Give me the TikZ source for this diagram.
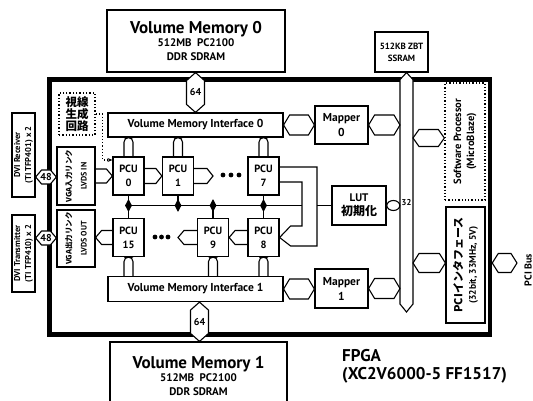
\documentclass[tikz,border=0pt]{standalone}
\usepackage{fontspec}
\setmainfont{PT Sans}
\newfontfamily\jp{Noto Sans CJK JP}
\usetikzlibrary{calc,shapes.geometric,arrows.meta}

\tikzset{
  blk/.style={draw, line width=1.2pt, fill=white, inner sep=0pt, align=center, font=\bfseries},
  pcu/.style={blk, minimum width=31pt, minimum height=38pt, font=\fontsize{10.5}{14}\selectfont\bfseries},
  link/.style={draw, line width=1.1pt, fill=white},
  wire/.style={line width=1.1pt},
  dotbox/.style={draw, dotted, line width=1.3pt, inner sep=0pt, align=center},
  vtxt/.style={rotate=90, align=center, inner sep=0pt},
  num/.style={inner sep=0pt, font=\fontsize{10}{11}\selectfont\bfseries},
  jn/.style={diamond, fill=black, inner sep=0pt, minimum width=7pt, minimum height=13pt},
}

\newcommand{\hexH}[5]{%
  \coordinate (#1a) at (#2); \coordinate (#1b) at (#3);
  \path[link] (#1a) -- ([shift={(6pt,#4)}]#1a) -- ([shift={(-6pt,#4)}]#1b) -- (#1b)
    -- ([shift={(-6pt,-#4)}]#1b) -- ([shift={(6pt,-#4)}]#1a) -- cycle;
  \node[num] (#1) at ($(#1a)!.5!(#1b)$) {#5};}
\newcommand{\hexV}[5]{%
  \coordinate (#1a) at (#2); \coordinate (#1b) at (#3);
  \path[link] (#1a) -- ([shift={(#4,-8pt)}]#1a) -- ([shift={(#4,8pt)}]#1b) -- (#1b)
    -- ([shift={(-#4,8pt)}]#1b) -- ([shift={(-#4,-8pt)}]#1a) -- cycle;
  \node[num] (#1) at ($(#1a)!.5!(#1b)$) {#5};}
\newcommand{\chev}[4]{%
  \coordinate (#1a) at (#2); \coordinate (#1t) at (#3);
  \coordinate (#1k) at ($(#1t)!6pt!(#1a)$);
  \draw[wire] ([yshift=#4]#1a) -- ([yshift=#4]#1k) -- (#1t) -- ([yshift=-#4]#1k) -- ([yshift=-#4]#1a);}

\begin{document}
\begin{tikzpicture}[x=1pt,y=-1pt]
\fill[white] (0,0) rectangle (533,401);
\useasboundingbox (0,0) rectangle (533,401);

\node[draw, line width=4.5pt, minimum width=440.5pt, minimum height=255pt, inner sep=0pt] (fpga) at (269.75,207) {};

% memories and SSRAM bus
\node[blk, minimum width=178pt, minimum height=62pt, font=\fontsize{11}{13.5}\selectfont\bfseries] (vm0) at (196,41)
  {{\fontsize{17}{17}\selectfont Volume Memory 0}\\[0pt] 512MB\enspace PC2100\\ DDR SDRAM};
\node[blk, minimum width=177pt, minimum height=68pt, font=\fontsize{11}{13.5}\selectfont\bfseries] (vm1) at (198.5,376)
  {{\fontsize{17}{17}\selectfont Volume Memory 1}\\[0pt] 512MB\enspace PC2100\\ DDR SDRAM};
\node[blk, minimum width=53pt, minimum height=40pt, font=\fontsize{9}{12}\selectfont\bfseries] (ssram) at (401.5,52) {512KB ZBT\\SSRAM};

\coordinate (bustop) at ([xshift=5pt]ssram.south);
\coordinate (busbot) at (bustop |- 0,312);
\coordinate (busL) at ([xshift=-6.5pt]bustop);
\coordinate (busR) at ([xshift=6.5pt]bustop);
\path[link] (bustop) -- ++(6.5,7) -- ($(busbot)+(6.5,-8)$) -- (busbot) -- ($(busbot)+(-6.5,-8)$) -- ($(bustop)+(-6.5,7)$) -- cycle;

% FPGA blocks
\node[blk, minimum width=175pt, minimum height=24pt, font=\fontsize{11.5}{13}\selectfont\bfseries] (vmi0) at (195.5,125) {Volume Memory Interface 0};
\node[blk, minimum width=175pt, minimum height=25pt, font=\fontsize{11.5}{13}\selectfont\bfseries] (vmi1) at (195.5,289) {Volume Memory Interface 1};
\node[blk, minimum width=53pt, minimum height=38pt, font=\fontsize{11.5}{15}\selectfont\bfseries] (map0) at (341.5,125) {Mapper\\0};
\node[blk, minimum width=53pt, minimum height=39pt, font=\fontsize{11.5}{15}\selectfont\bfseries] (map1) at (341.5,288.5) {Mapper\\1};
\node[blk, minimum width=54pt, minimum height=39pt, font=\fontsize{11}{14}\selectfont\bfseries] (lut) at (359,205.5) {LUT\\{\jp\fontsize{12}{13}\selectfont 初期化}};

\node[dotbox, minimum width=40pt, minimum height=117pt] (sw) at (465,141.5) {};
\node[vtxt, font=\fontsize{10.5}{13}\selectfont\bfseries] (swT) at (sw) {Software Processor\\(MicroBlaze)};
\node[blk, minimum width=39pt, minimum height=116pt] (pci) at (465.5,265) {};
\node[vtxt, font=\fontsize{9.5}{13.5}\selectfont\bfseries] (pciT) at (pci) {{\jp\fontsize{11}{12}\selectfont PCIインタフェース}\\(32bit, 33MHz, 5V)};

\node[dotbox, minimum width=36pt, minimum height=42pt, font=\jp\fontsize{11.5}{11}\selectfont\bfseries] (ray) at (77,114) {視線\\生成\\回路};
\node[blk, minimum width=38pt, minimum height=58pt] (vgain) at (76,176) {};
\node[vtxt, font=\fontsize{8}{15}\selectfont\bfseries] (vgainT) at (vgain) {{\jp\fontsize{7.5}{9}\selectfont VGA入力リンク}\\LVDS IN};
\node[blk, minimum width=38pt, minimum height=57pt] (vgaout) at (76,238.5) {};
\node[vtxt, font=\fontsize{8}{15}\selectfont\bfseries] (vgaoutT) at (vgaout) {{\jp\fontsize{7.5}{9}\selectfont VGA出力リンク}\\LVDS OUT};

\node[blk, minimum width=23pt, minimum height=84pt] (dvirx) at (23.5,155) {};
\node[vtxt, font=\fontsize{8.5}{11}\selectfont\bfseries] (dvirxT) at (dvirx) {DVI Receiver\\(TI TFP401) x 2};
\node[blk, minimum width=23pt, minimum height=77pt] (dvitx) at (23.5,253.5) {};
\node[vtxt, font=\fontsize{8.5}{11}\selectfont\bfseries] (dvitxT) at (dvitx) {DVI Transmitter\\(TI TFP410) x 2};

% PCU array
\node[pcu] (p0) at (128.5,176) {PCU\\0};
\node[pcu] (p1) at (178,176) {PCU\\1};
\node[pcu] (p7) at (263.5,176) {PCU\\7};
\node[pcu] (p15) at (128.5,237.5) {PCU\\15};
\node[pcu] (p9) at (213,237.5) {PCU\\9};
\node[pcu] (p8) at (263.5,237.5) {PCU\\8};
\foreach \x in {223,231,239} \fill (\x,175) circle (2.4pt);
\foreach \x in {155,161.5,168} \fill (\x,237) circle (2.4pt);
\coordinate (dotsA) at (213,176);
\coordinate (dotsB) at (178,237.5);

\foreach \p in {p0,p1,p7} {
  \coordinate (t) at (\p.north |- vmi0.south);
  \draw[wire, rounded corners=4.5pt] ([xshift=-4.5pt]\p.north) |- (t) -| ([xshift=4.5pt]\p.north);
}
\foreach \p in {p15,p9,p8} {
  \coordinate (b) at (\p.south |- vmi1.north);
  \draw[wire, rounded corners=4.5pt] ([xshift=-4.5pt]b) |- (\p.south) -| ([xshift=4.5pt]b);
}

\chev{c0}{vgain.east}{p0.west}{7pt}
\chev{c1}{p0.east}{p1.west}{7.5pt}
\chev{c2}{p1.east}{dotsA}{7.5pt}
\chev{c3}{p8.west}{p9.east}{7pt}
\chev{c4}{p9.west}{dotsB}{7pt}
\chev{c5}{p15.west}{p15.west -| vgaout.east}{7pt}

\coordinate (loopin) at (302,0);
\coordinate (loopout) at (317,0);
\coordinate (lk) at ([xshift=11pt]p8.east);
\draw[wire] ([yshift=9pt]p7.east) -| (loopout |- 0,246) -- (lk |- 0,246) -- (p8.east);
\draw[wire] ([yshift=-6pt]p7.east) -| (loopin |- 0,226) -- (lk |- 0,226) -- (p8.east);
\draw[wire] (p0.south |- lut.west) -- (loopin |- lut.west);
\draw[wire] (lut.west) -- (lut.west -| loopout);
\draw[wire] (p0.south) -- (p15.north);
\draw[wire] (p7.south) -- (p8.north);
\draw[wire] (p1.south) -- (p1.south |- lut.west);
\draw[wire] (p9.north) -- (p9.north |- lut.west);
\foreach \p in {p0,p1,p9,p7} \node[jn] (j\p) at (\p.south |- lut.west) {};

\draw[dotted, line width=1.2pt, -{Stealth[length=5pt,width=4pt]}] (ray.east) -- ++(7,0) |- ([yshift=16pt]p0.west);

% links
\hexV{h64a}{vmi0.north |- vm0.south}{vmi0.north}{9pt}{64}
\coordinate (m1) at ([xshift=4pt]vmi1.south);
\hexV{h64b}{m1}{m1 |- vm1.north}{9pt}{64}
\hexH{hm0}{vmi0.east}{map0.west}{10pt}{}
\hexH{hb0}{map0.east}{map0.east -| busL}{10pt}{}
\hexH{hm1}{vmi1.east}{vmi1.east -| map1.west}{10pt}{}
\hexH{hb1}{map1.east}{map1.east -| busL}{10pt}{}
\hexH{hsw}{busR |- 0,138}{sw.west |- 0,138}{8.5pt}{}
\hexH{hpci}{busR |- 0,263}{pci.west |- 0,263}{9.5pt}{}
\coordinate (pcitip) at (517,263);
\hexH{hext}{fpga.east |- 0,263}{pcitip}{9.5pt}{}
\hexH{h48a}{dvirx.east |- 0,177}{vgain.west |- 0,177}{7pt}{48}
\hexH{h48b}{dvitx.east |- 0,238}{vgaout.west |- 0,238}{7pt}{48}

\draw[link] ($(lut.east)!.5!(lut.east -| busL)$) ellipse [x radius=6.5pt, y radius=5pt];
\node[num, font=\fontsize{8.5}{9}\selectfont\bfseries] (w32) at (bustop |- 0,203) {32};

\node[rotate=90, inner sep=0pt, font=\fontsize{10}{11}\selectfont\bfseries] (pcibus) at (528,270) {PCI Bus};
\node[anchor=north west, align=left, inner sep=0pt, font=\fontsize{17}{18}\selectfont\bfseries] (fpgaT) at (342,349) {FPGA\\(XC2V6000-5 FF1517)};
\end{tikzpicture}
\end{document}
